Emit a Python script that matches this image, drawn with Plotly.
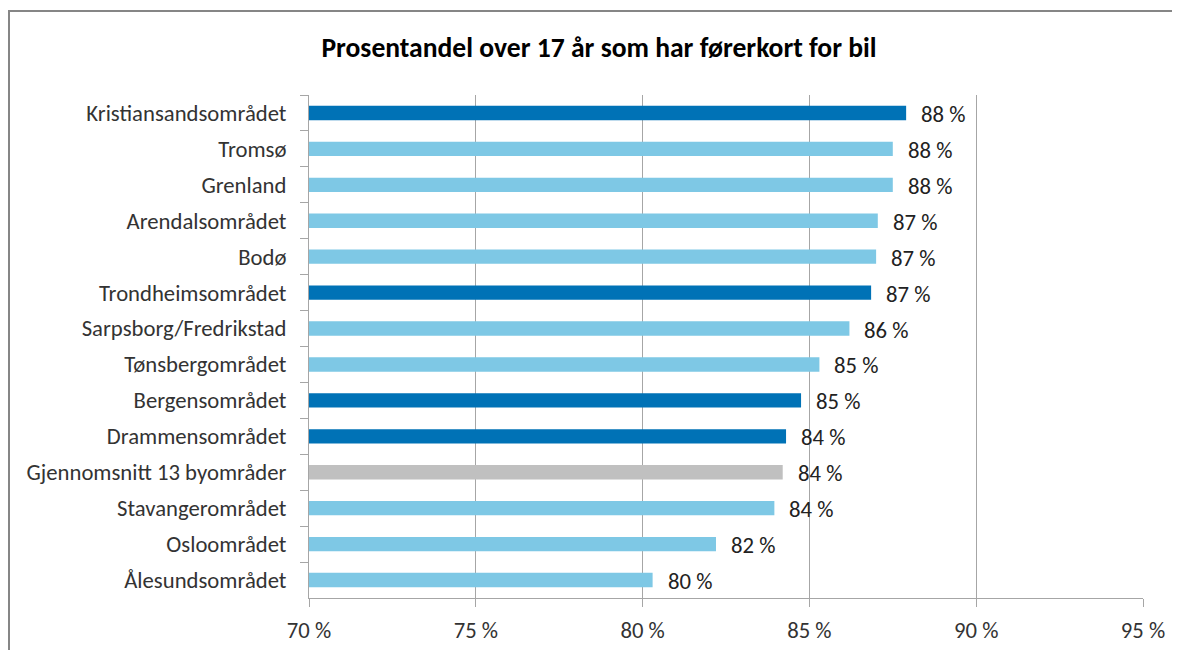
import plotly.graph_objects as go

categories = [
    "Kristiansandsområdet", "Tromsø", "Grenland", "Arendalsområdet", "Bodø",
    "Trondheimsområdet", "Sarpsborg/Fredrikstad", "Tønsbergområdet", "Bergensområdet",
    "Drammensområdet", "Gjennomsnitt 13 byområder", "Stavangerområdet", "Osloområdet",
    "Ålesundsområdet",
]
values = [87.9, 87.5, 87.5, 87.05, 87.0, 86.85, 86.2, 85.3, 84.75, 84.3, 84.2, 83.95, 82.2, 80.3]
groups = ["dark", "light", "light", "light", "light", "dark", "light", "light", "dark",
          "dark", "avg", "light", "light", "light"]
tick_vals = [70, 75, 80, 85, 90, 95]
tick_text = ["70 %", "75 %", "80 %", "85 %", "90 %", "95 %"]

color_map = {"dark": "#0072B6", "light": "#7EC8E5", "avg": "#C0C0C0"}
colors = [color_map[g] for g in groups]
labels = ["%d %%" % round(v) for v in values]

FONT = "Carlito, Lato, 'Open Sans', sans-serif"
FS = 22.7

fig = go.Figure(go.Bar(
    y=categories, x=values, base=0, orientation="h",
    marker=dict(color=colors, line=dict(width=0)),
    width=0.4, hoverinfo="x+y",
))

# page body has an 8px margin, so the figure is offset by 8px
W, H = 1172, 642
L, T = 301, 87
pw, ph = 834, 503
R, B = W - L - pw, H - T - ph

annotations = [
    dict(x=v, y=c, xref="x", yref="y", text=t, showarrow=False,
         xanchor="left", yanchor="middle", xshift=13, yshift=-1,
         font=dict(family=FONT, size=FS, color="#222222"))
    for c, v, t in zip(categories, values, labels)
]

fig.update_layout(
    width=W, height=H,
    margin=dict(l=L, r=R, t=T, b=B, pad=0, autoexpand=False),
    paper_bgcolor="white", plot_bgcolor="white",
    showlegend=False,
    title=dict(
        text="<b>Prosentandel over 17 år som har førerkort for bil</b>",
        x=591 / W, xanchor="center", y=1 - 39 / H, yanchor="middle",
        yref="container", xref="container",
        font=dict(family=FONT, size=27.6, color="#000000"),
    ),
    xaxis=dict(
        range=[70, 95], tickvals=tick_vals, ticktext=tick_text,
        showgrid=True, gridcolor="#A6A6A6", gridwidth=1,
        showline=True, linecolor="#A6A6A6", linewidth=1,
        ticks="outside", ticklen=8, tickcolor="#A6A6A6",
        tickfont=dict(family=FONT, size=FS, color="#333333"),
        zeroline=False, fixedrange=True, automargin=False,
        ticklabelstandoff=4,
    ),
    yaxis=dict(
        autorange="reversed", type="category",
        showline=True, linecolor="#A6A6A6", linewidth=1,
        ticks="outside", ticklen=8, tickcolor="#A6A6A6", tickson="boundaries",
        tickfont=dict(family=FONT, size=FS, color="#333333"),
        showgrid=False, ticklabelstandoff=17, automargin=False,
    ),
    bargap=0.6,
    font=dict(family=FONT),
    annotations=annotations,
    shapes=[dict(
        type="rect", xref="paper", yref="paper",
        x0=(1 - L) / pw, x1=1.2, y0=-0.3, y1=(H - B - 3) / ph,
        line=dict(color="#868686", width=2), fillcolor="rgba(0,0,0,0)", layer="below",
    )],
)

fig.write_html("out.html")
